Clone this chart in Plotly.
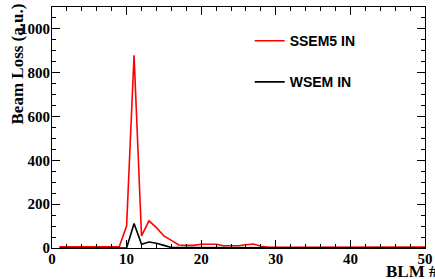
import plotly.graph_objects as go

blm = list(range(1, 51))
ssem5_in = [5, 5, 5, 2, 2, 2, 5, 5, 5, 100,
            880, 55, 124, 93, 55, 35, 14, 12, 12, 17,
            17, 17, 10, 10, 10, 15, 18, 8, 3, 3,
            3, 3, 3, 1, 3, 3, 1, 3, 1, 1,
            1, 1, 3, 3, 3, 4, 4, 4, 4, 4]
wsem_in = [0, 0, 0, 0, 0, 0, 0, 0, 0, 0,
           112, 17, 27, 22, 12, 2, 2, 2, 2, 2,
           2, 2, 2, 2, 2, 2, 2, 1, 0, 0,
           0, 0, 0, 0, 0, 0, 0, 0, 0, 1,
           3, 3, 3, 3, 1, 0, 0, 0, 0, 0]

serif = dict(family="Liberation Serif", size=15, color="black", weight="bold")

fig = go.Figure()
fig.add_trace(go.Scatter(x=blm, y=ssem5_in, mode="lines", name="SSEM5 IN",
                         line=dict(color="#ff0000", width=1.6), legendgroup="a"))
fig.add_trace(go.Scatter(x=blm, y=wsem_in, mode="lines", name="WSEM IN",
                         line=dict(color="black", width=1.6), legendgroup="b"))

axis_common = dict(showgrid=False, zeroline=False, showline=True, linecolor="black",
                   linewidth=1, mirror="allticks", ticks="inside", ticklen=8,
                   tickcolor="black", tickwidth=1, tickfont=serif,
                   ticklabeloverflow="allow")
fig.update_xaxes(range=[0, 50], dtick=10, tick0=0, ticklabelstandoff=-3,
                 minor=dict(dtick=2, ticks="inside", ticklen=4, tickcolor="black"),
                 **axis_common)
fig.update_yaxes(range=[0, 1100], dtick=200, tick0=0, ticklabelstandoff=-2,
                 minor=dict(dtick=50, ticks="inside", ticklen=4, tickcolor="black"),
                 **axis_common)

fig.add_annotation(text="Beam Loss (a.u.)", textangle=-90, xref="paper", yref="paper",
                   x=0, y=1, xanchor="center", yanchor="top", xshift=-35, yshift=5,
                   showarrow=False, font=dict(family="Liberation Serif", size=17,
                                              color="black", weight="bold"))
fig.add_annotation(text="BLM #", xref="paper", yref="paper", x=0.89, y=0,
                   xanchor="left", yanchor="middle", yshift=-23, showarrow=False,
                   font=dict(family="Liberation Serif", size=17, color="black",
                             weight="bold"))

fig.update_layout(
    width=435, height=279,
    margin=dict(l=52, r=2, t=7, b=31),
    paper_bgcolor="white", plot_bgcolor="white",
    showlegend=True,
    legend=dict(x=0.53, y=0.925, xanchor="left", yanchor="top",
                bgcolor="rgba(0,0,0,0)", tracegroupgap=20,
                font=dict(family="Liberation Sans", size=14, color="black",
                          weight="bold")),
)

fig.write_html("out.html", config={"displayModeBar": False},
               post_script="document.body.style.margin='0';")
